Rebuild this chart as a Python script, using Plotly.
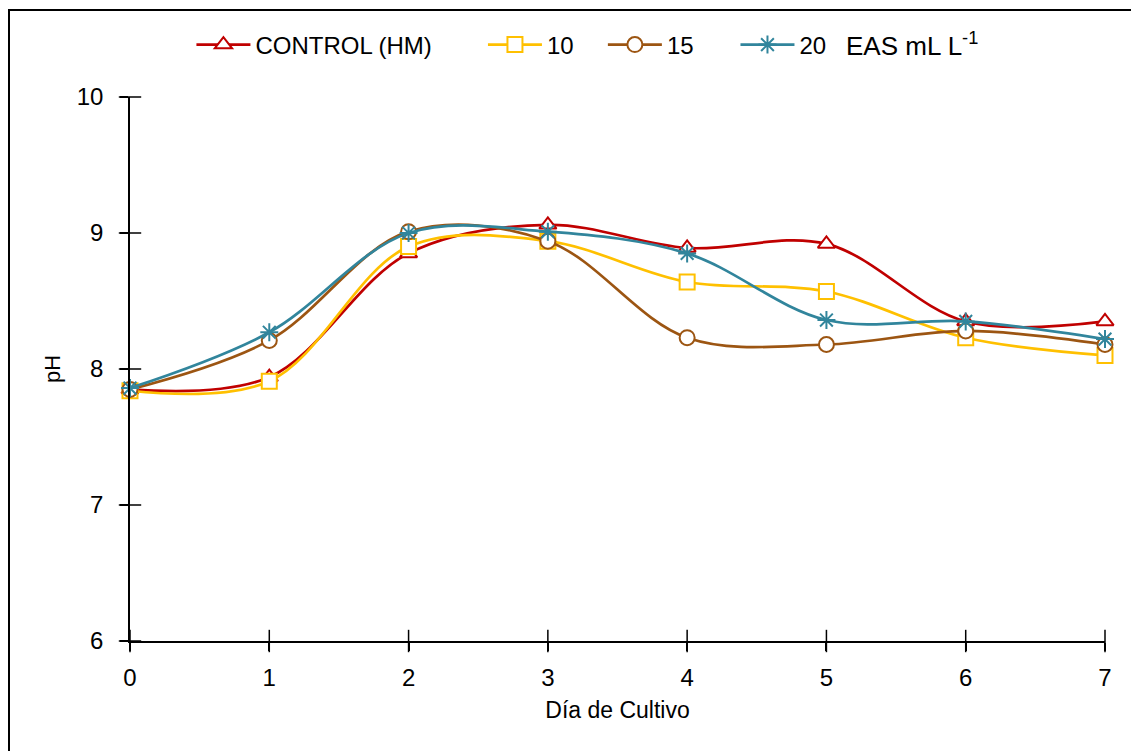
import plotly.graph_objects as go

days = [0, 1, 2, 3, 4, 5, 6, 7]
control = [7.85, 7.94, 8.85, 9.06, 8.89, 8.92, 8.35, 8.35]
eas10 = [7.84, 7.91, 8.90, 8.94, 8.64, 8.57, 8.23, 8.10]
eas15 = [7.85, 8.21, 9.01, 8.94, 8.23, 8.18, 8.28, 8.18]
eas20 = [7.86, 8.27, 9.00, 9.01, 8.85, 8.36, 8.35, 8.22]
yticks = [6, 7, 8, 9, 10]

names = ["CONTROL (HM)", "10", "15", "20"]
unit_label = "EAS mL L<sup>-1</sup>"
colors = ["#C00000", "#FFC000", "#9C5512", "#31859C"]
symbols = ["triangle-up", "square", "circle", "asterisk-open"]
series = [control, eas10, eas15, eas20]
legend_ids = ["legend", "legend2", "legend3", "legend4"]
legend_x = [0.063, 0.362, 0.485, 0.621]

FONT = "Liberation Sans, Arial, sans-serif"

fig = go.Figure()

# cross-style tick marks (Excel "cross" ticks) placed at the axis tick values
fig.add_trace(go.Scatter(x=days, y=[yticks[0]] * len(days), mode="markers",
                         marker=dict(symbol="line-ns-open", size=16, color="black",
                                     line=dict(color="black", width=1.5)),
                         cliponaxis=False, showlegend=False, hoverinfo="skip"))
fig.add_trace(go.Scatter(x=[days[0]] * len(yticks), y=yticks, mode="markers",
                         marker=dict(symbol="line-ew-open", size=16, color="black",
                                     line=dict(color="black", width=1.5)),
                         cliponaxis=False, showlegend=False, hoverinfo="skip"))

for name, col, sym, vals, lid in zip(names, colors, symbols, series, legend_ids):
    fill = col if sym == "asterisk-open" else "white"
    fig.add_trace(go.Scatter(
        x=days, y=vals, name=name, mode="lines+markers", legend=lid,
        line=dict(color=col, width=2.7, shape="spline", smoothing=1.0),
        marker=dict(symbol=sym, size=15, color=fill, line=dict(color=col, width=2)),
        cliponaxis=False,
    ))

legend_common = dict(orientation="h", y=1.0956, yanchor="middle", xanchor="left",
                     font=dict(size=24, family=FONT, color="black"),
                     bgcolor="rgba(0,0,0,0)", itemwidth=54, borderwidth=0)
layout_legends = {}
for lid, lx in zip(legend_ids, legend_x):
    layout_legends[lid] = dict(legend_common, x=lx)

fig.update_layout(
    width=1131, height=743,
    margin=dict(l=122, r=34, t=89, b=110),
    paper_bgcolor="white", plot_bgcolor="white",
    font=dict(family=FONT, color="black", size=24),
    showlegend=True,
    xaxis=dict(range=[0, 7], tickvals=days, ticks="outside", ticklen=8, tickwidth=1.5,
               tickcolor="black", showline=True, linecolor="black", linewidth=1.5,
               showgrid=False, zeroline=False, tickfont=dict(size=24),
               ticklabelstandoff=6,
               title=dict(text="Día de Cultivo", font=dict(size=23), standoff=12)),
    yaxis=dict(range=[6, 10], tickvals=yticks, ticks="outside", ticklen=8,
               tickwidth=1.5, tickcolor="black", showline=True, linecolor="black",
               linewidth=1.5, showgrid=False, zeroline=False, tickfont=dict(size=24),
               ticklabelstandoff=12,
               title=dict(text="pH", font=dict(size=22), standoff=10)),
    **layout_legends,
)

fig.add_annotation(text=unit_label, xref="paper", yref="paper", x=0.732, y=1.0956,
                   xanchor="left", yanchor="middle", showarrow=False,
                   font=dict(size=26, family=FONT, color="black"))

fig.add_shape(type="rect", xref="paper", yref="paper",
              x0=-0.1241, x1=1.05, y0=-0.25, y1=1.16,
              line=dict(color="black", width=2), fillcolor="rgba(0,0,0,0)", layer="below")

fig.write_html("out.html")
